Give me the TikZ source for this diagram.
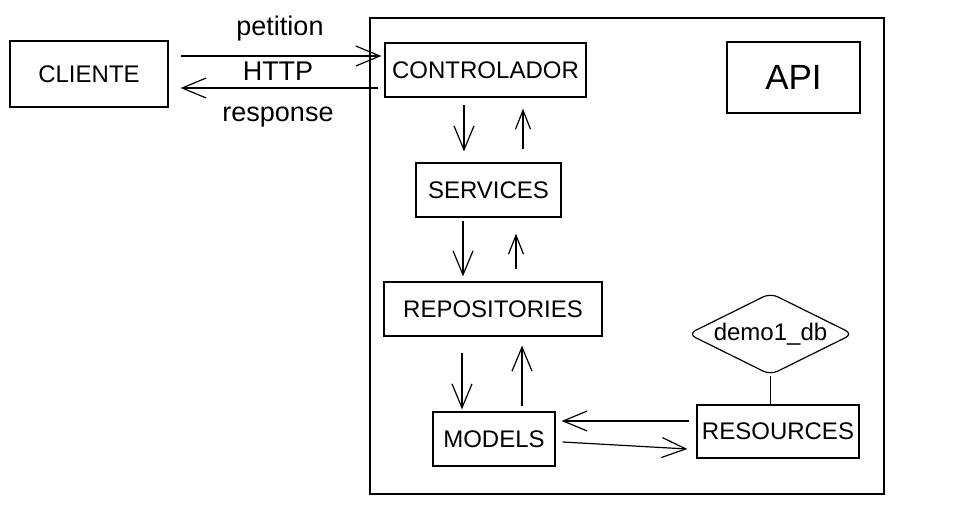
\documentclass[tikz,border=0pt]{standalone}
\usepackage{fontspec}
\setmainfont{Liberation Sans}
\usetikzlibrary{arrows.meta,calc,shapes.geometric}
\tikzset{
  box/.style={draw, line width=1.2pt, inner sep=0pt, font=\fontsize{24}{26}\selectfont},
  lbl/.style={inner sep=0pt, font=\fontsize{27}{29}\selectfont},
  arr/.style={line width=1.2pt, -{Straight Barb[length=24pt,width=20pt,line width=1.2pt]}},
  sarr/.style={line width=1.2pt, -{Straight Barb[length=19pt,width=15pt,line width=1.2pt]}},
}
\begin{document}
\begin{tikzpicture}[x=1pt,y=-1pt]
\useasboundingbox (0,0) rectangle (964,504);
% container
\node[draw, line width=1.2pt, minimum width=514pt, minimum height=476pt] (apibox) at (627,256) {};
\node[box, minimum width=158pt, minimum height=66pt] (cli) at (89,74) {CLIENTE};
\node[box, minimum width=201pt, minimum height=54pt] (ctrl) at (485.5,70) {CONTROLADOR};
\node[box, minimum width=133pt, minimum height=71pt, font=\fontsize{35}{37}\selectfont] (api) at (793.5,77.5) {API};
\node[box, minimum width=145pt, minimum height=54pt] (serv) at (488.5,190) {SERVICES};
\node[box, minimum width=218pt, minimum height=54pt] (repo) at (493,309) {REPOSITORIES};
\node[box, minimum width=122pt, minimum height=54pt] (mod) at (494,439) {MODELS};
\node[box, minimum width=162pt, minimum height=53pt] (res) at (778,431.5) {RESOURCES};
\node[diamond, draw, line width=1.2pt, rounded corners=8pt, aspect=2, inner sep=0pt,
      minimum width=165pt, minimum height=82pt, font=\fontsize{24}{26}\selectfont] (db) at (770.5,334) {demo1\_db};
% labels
\node[lbl] (lpet) at (280,29) {petition};
\node[lbl] (lhttp) at (278,71) {HTTP};
\node[lbl] (lresp) at (278,117) {response};
% client <-> controller
\draw[arr] ($(cli.east)+(12,-18)$) -- ($(ctrl.west)+(-3,-14)$);
\draw[arr] ($(ctrl.west)+(-6,18)$) -- ($(cli.east)+(12,14)$);
% controller <-> services
\draw[arr] ($(ctrl.south)+(-21.5,7)$) -- ($(serv.north)+(-24.5,-11)$);
\draw[sarr] ($(serv.north)+(34.5,-13)$) -- ($(ctrl.south)+(37.5,11)$);
% services <-> repositories
\draw[arr] ($(serv.south)+(-25.5,3)$) -- ($(repo.north)+(-30,-5)$);
\draw[sarr] ($(repo.north)+(23,-12)$) -- ($(serv.south)+(27.5,16)$);
% repositories <-> models
\draw[arr] ($(repo.south)+(-31,16)$) -- ($(mod.north)+(-32,-2)$);
\draw[arr] ($(mod.north)+(28,-5)$) -- ($(repo.south)+(29,9)$);
% models <-> resources
\draw[arr] ($(res.west)+(-7,-10.5)$) -- ($(mod.east)+(6,-18)$);
\draw[arr] ($(mod.east)+(7,3)$) -- ($(res.west)+(-9,17.5)$);
% db - resources
\draw[line width=1.2pt] (db.south) -- (db.south |- res.north);
\end{tikzpicture}
\end{document}
